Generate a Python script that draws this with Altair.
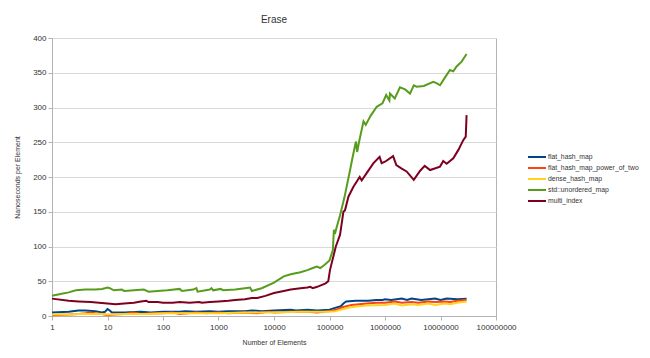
import altair as alt
import pandas as pd

series_names = ["flat_hash_map", "flat_hash_map_power_of_two", "dense_hash_map",
                "std::unordered_map", "multi_index"]
series_colors = ["#004586", "#ff420e", "#ffd320", "#579d1c", "#7e0021"]

blue_x = [1, 2, 3, 4, 6, 8, 9, 10, 11, 12, 20, 40, 60, 100, 200, 250, 400, 700, 1000, 1500,
          3000, 4000, 6000, 10000, 20000, 25000, 40000, 60000, 100000, 130000, 160000, 178000,
          200000, 300000, 500000, 700000, 900000, 1000000, 1300000, 2000000, 2500000, 3000000,
          4500000, 6000000, 8000000, 10000000, 13000000, 20000000, 29500000]
blue_y = [5, 6, 8, 8, 7, 5, 6, 10, 8, 5, 5, 6, 5, 6, 6, 7, 6, 7, 6, 7,
          7, 8, 7, 8, 9, 8, 9, 8, 9, 12, 14, 18,
          21, 22, 22, 23, 23, 24, 23, 25, 23, 25,
          23, 24, 25, 23, 25, 24, 25]

orange_x = [1, 2, 3, 4, 5, 6, 8, 10, 13, 20, 30, 40, 70, 100, 150, 200, 400, 600, 1000, 1500,
            3000, 5000, 8000, 10000, 20000, 40000, 60000, 100000, 130000, 178000, 250000,
            470000, 700000, 1000000, 1500000, 2000000, 3000000, 4000000, 6000000, 8000000,
            12000000, 15000000, 20000000, 29500000]
orange_y = [1, 2, 3, 4, 5, 4, 3, 1, 2, 3, 5, 3, 4, 4, 5, 3, 5, 4, 5, 4,
            5, 4, 6, 5, 6, 6, 5, 7, 9, 13, 16,
            18, 19, 19, 21, 19, 20, 19, 21, 20,
            21, 20, 22, 23]

yellow_x = [1, 2, 3, 5, 8, 10, 20, 50, 100, 300, 1000, 3000, 10000, 30000, 100000, 130000,
            178000, 250000, 470000, 1000000, 1500000, 2000000, 3000000, 4000000, 6000000,
            8000000, 12000000, 15000000, 20000000, 29500000]
yellow_y = [2, 2, 3, 3, 3, 2, 3, 3, 4, 4, 4, 5, 5, 6, 6, 7,
            10, 13, 15, 16, 18, 15, 17, 16, 18,
            16, 18, 17, 19, 21]

green_x = [1, 1.5, 2, 2.7, 4, 6, 8, 10, 11, 13, 18, 20, 30, 45, 55, 80, 120, 200, 220, 350,
           400, 420, 700, 750, 800, 1100, 1200, 2000, 3000, 3700, 4000, 6000, 10000, 15000,
           20000, 30000, 40000, 50000, 59000, 68000, 80000, 100000, 115000, 120000, 125000,
           135000, 155000, 185000, 235000, 260000, 300000, 315000, 340000, 410000, 450000,
           550000, 710000, 900000, 1050000, 1200000, 1230000, 1500000, 1860000, 2300000,
           2820000, 3300000, 3700000, 5000000, 7400000, 8500000, 9800000, 12000000, 14800000,
           17000000, 19500000, 24000000, 29500000]
green_y = [29, 32, 34, 37, 38, 38, 39, 41, 40, 37, 38, 36, 37, 38, 35, 36, 37, 39, 36, 38,
           40, 35, 38, 40, 37, 39, 37, 38, 40, 41, 36, 40, 48, 57,
           60, 63, 66, 69, 71, 69, 73, 80, 95, 124, 118,
           128, 145, 170, 210, 228, 251, 236, 250, 280, 275,
           288, 301, 306, 318, 310, 320, 313, 329, 326,
           320, 332, 330, 331, 337, 335, 332, 343, 354,
           352, 359, 366, 377]

maroon_x = [1, 2, 3, 5, 7, 10, 14, 20, 30, 40, 50, 55, 80, 100, 150, 200, 300, 450, 500, 700,
            1000, 1500, 2000, 3000, 4000, 5000, 7000, 10000, 15000, 20000, 30000, 40000, 45000,
            50000, 60000, 85000, 95000, 102000, 130000, 155000, 178000, 190000, 220000, 270000,
            350000, 380000, 470000, 620000, 800000, 870000, 1000000, 1400000, 1600000, 2000000,
            2450000, 3300000, 4300000, 5200000, 6500000, 9800000, 11200000, 12900000, 17000000,
            21000000, 25700000, 28500000, 29500000]
maroon_y = [25, 22, 21, 20, 19, 18, 17, 18, 19, 21, 22, 20, 20, 19, 19, 20, 19, 20, 19, 20,
            21, 22, 23, 24, 26, 26, 29, 33, 36, 38, 40, 41, 42,
            40, 42, 47, 50, 66, 100, 117, 150, 152, 172, 186,
            200, 195, 206, 220, 229, 220, 222, 230, 217, 212,
            208, 196, 209, 216, 210, 215, 223, 219, 227,
            239, 253, 258, 289]

x_ticks = [1, 10, 100, 1000, 10000, 100000, 1000000, 10000000, 100000000]
y_ticks = [0, 50, 100, 150, 200, 250, 300, 350, 400]

frames = []
for name, xs, ys in zip(series_names,
                        [blue_x, orange_x, yellow_x, green_x, maroon_x],
                        [blue_y, orange_y, yellow_y, green_y, maroon_y]):
    frames.append(pd.DataFrame({"n": xs, "ns": ys, "series": name}))
df = pd.concat(frames, ignore_index=True)

FONT = "Liberation Sans"

chart = alt.Chart(df).mark_line(strokeWidth=2).encode(
    x=alt.X("n:Q",
            scale=alt.Scale(type="log", domain=[1, 100000000], nice=False),
            axis=alt.Axis(values=x_ticks, format="d", title="Number of Elements",
                          grid=False, tickSize=4, labelPadding=3, titlePadding=7,
                          labelFlush=False, labelOverlap=False)),
    y=alt.Y("ns:Q",
            scale=alt.Scale(domain=[0, 400], nice=False),
            axis=alt.Axis(values=y_ticks, title="Nanoseconds per Element",
                          grid=True, tickSize=4, labelPadding=2, titlePadding=12)),
    color=alt.Color("series:N",
                    scale=alt.Scale(domain=series_names, range=series_colors),
                    legend=alt.Legend(title=None, orient="none", legendX=479, legendY=113,
                                      symbolType="M-1.8,0L1.8,0", symbolSize=100,
                                      symbolStrokeWidth=2, rowPadding=1, labelOffset=5,
                                      labelFontSize=6.8, labelFont=FONT, labelColor="#333333",
                                      labelLimit=200, padding=0)),
    order=alt.Order("n:Q"),
    detail="series:N",
).properties(
    width=444,
    height=278,
    title=alt.TitleParams("Erase", fontSize=10, font=FONT, fontWeight="normal",
                          color="#333333", anchor="middle", offset=9),
    autosize=alt.AutoSizeParams(type="none"),
    padding={"left": 44, "top": 30, "right": 146, "bottom": 34},
).configure_axis(
    labelFont=FONT, labelFontSize=8, labelColor="#333333",
    titleFont=FONT, titleFontSize=7, titleFontWeight="normal", titleColor="#333333",
    domainColor="#b3b3b3", tickColor="#b3b3b3", gridColor="#d9d9d9", gridWidth=1,
).configure_view(stroke="#b3b3b3")

chart.save("out.html", embed_options={"renderer": "svg", "actions": False})
